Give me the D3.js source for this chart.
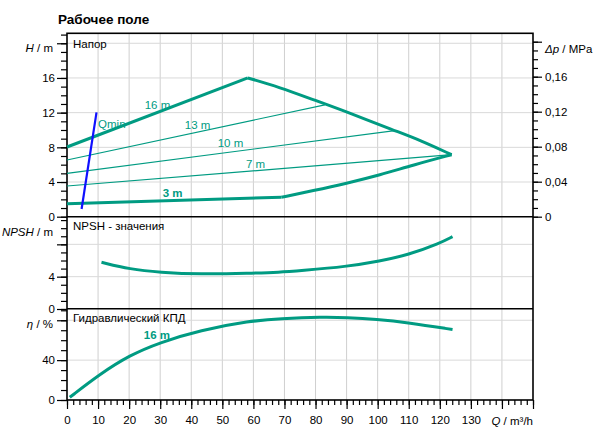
<!DOCTYPE html>
<meta charset="utf-8">
<style>
    body { margin: 0; background: #fff; }
    svg { font-family: "Liberation Sans", Arial, sans-serif; font-size: 11.5px; }
    .grid line { stroke: #cfcfcf; stroke-width: 1; }
    .axis path { display: none; }
    .axis line { stroke: #000; stroke-width: 1.2; }
    .axis text { fill: #000; font-size: 11.5px; }
</style>
<body>
<script src="https://cdn.jsdelivr.net/npm/d3@7"></script>
<script>

// ---- data ----
var qTicks = [0, 10, 20, 30, 40, 50, 60, 70, 80, 90, 100, 110, 120, 130];

// head field (Q m3/h, H m)
var curve16 = [[0, 8.04], [58.2, 16]];
var curveMax = [[58.2, 16], [68.5, 14.92], [79.2, 13.5], [90, 12.1], [105.5, 9.92], [113.5, 8.85], [123.8, 7.15]];
var curve13 = [[0, 6.54], [83, 12.9]];
var curve10 = [[0, 5.0], [105.5, 9.92]];
var curve7 = [[0, 3.54], [123.8, 7.15]];
var curve3 = [[0, 1.5], [69, 2.24]];
var curveMin = [[69, 2.24], [79.2, 3.0], [90, 3.85], [100.7, 4.8], [111.4, 5.96], [123.8, 7.15]];
var qmin = [[4.7, 0.89], [9.5, 12.04]];

var headLabels = [
    {t: "16 m", q: 25.0, v: 12.4, bold: false},
    {t: "Qmin", q: 10.0, v: 10.2, bold: false},
    {t: "13 m", q: 37.9, v: 10.1, bold: false},
    {t: "10 m", q: 48.5, v: 8.0, bold: false},
    {t: "7 m", q: 57.6, v: 5.65, bold: false},
    {t: "3 m", q: 30.8, v: 2.3, bold: true}
];

// NPSH (m)
var npsh = [[11.1, 5.78], [20.3, 4.91], [29.9, 4.54], [42.8, 4.29], [58.9, 4.42], [68.5, 4.54], [75, 4.74], [90, 5.24], [100.7, 5.94], [109.8, 6.68], [120, 8.13], [124.1, 8.95]];

// hydraulic efficiency (%)
var eta = [[0.9, 2.7], [10.6, 26], [20.2, 45], [29.9, 57.7], [42.8, 70], [58.9, 79.3], [68.5, 81.7], [82.5, 83.3], [90, 82.7], [99.6, 81], [109.8, 77.7], [124.1, 70.7]];
var etaLabel = {t: "16 m", q: 24.7, v: 61};

// ---- layout ----
var W = 599, H = 443;
var x0 = 67, x1 = 533;
var green = "#009b82";

var svg = d3.select("body").append("svg")
    .attr("width", W)
    .attr("height", H);

var x = d3.scaleLinear().domain([0, 150]).range([x0, x1]);
var yH = d3.scaleLinear().domain([0, 21.15]).range([216.7, 33.3]);
var yP = d3.scaleLinear().domain([0, 0.2096]).range([216.7, 33.3]);
var yN = d3.scaleLinear().domain([0, 11.42]).range([309, 216.7]);
var yE = d3.scaleLinear().domain([0, 91.7]).range([400, 308.6]);

// grid
var grid = svg.append("g").attr("class", "grid");
grid.selectAll("line.v")
    .data(d3.range(10, 150, 10))
  .enter().append("line")
    .attr("x1", d => x(d)).attr("x2", d => x(d))
    .attr("y1", 33.3).attr("y2", 400);

function hgrid(scale, vals) {
    grid.selectAll(null)
        .data(vals)
      .enter().append("line")
        .attr("x1", x0).attr("x2", x1)
        .attr("y1", d => scale(d)).attr("y2", d => scale(d))
        .style("stroke", "#d9d9d9");
}
hgrid(yH, [4, 8, 12, 16, 20]);
hgrid(yN, [4, 8]);
hgrid(yE, [40, 80]);

// axes
function leftAxis(scale, minor, major, labels) {
    svg.append("g").attr("class", "axis")
        .attr("transform", "translate(" + x0 + ",0)")
        .call(d3.axisLeft(scale).tickValues(minor).tickSize(6).tickFormat(""));
    svg.append("g").attr("class", "axis")
        .attr("transform", "translate(" + x0 + ",0)")
        .call(d3.axisLeft(scale).tickValues(major).tickSize(10).tickPadding(2)
            .tickFormat(d => labels.indexOf(d) >= 0 ? d : ""));
}
leftAxis(yH, d3.range(0, 22), [0, 4, 8, 12, 16, 20], [0, 4, 8, 12, 16]);
leftAxis(yN, d3.range(0, 12), [0, 4, 8], [0, 4]);
leftAxis(yE, d3.range(0, 91, 10), [0, 40, 80], [0, 40]);

svg.append("g").attr("class", "axis")
    .attr("transform", "translate(" + x1 + ",0)")
    .call(d3.axisRight(yP).tickValues(d3.range(0, 0.205, 0.01)).tickSize(5).tickFormat(""));
svg.append("g").attr("class", "axis")
    .attr("transform", "translate(" + x1 + ",0)")
    .call(d3.axisRight(yP).tickValues([0, 0.04, 0.08, 0.12, 0.16, 0.2]).tickSize(9).tickPadding(3)
        .tickFormat(d => d === 0.2 ? "" : (d === 0 ? "0" : d3.format(".2f")(d).replace(".", ","))));

svg.append("g").attr("class", "axis")
    .attr("transform", "translate(0,400)")
    .call(d3.axisBottom(x).tickValues(d3.range(0, 151, 2)).tickSize(5).tickFormat(""));
svg.append("g").attr("class", "axis")
    .attr("transform", "translate(0,400)")
    .call(d3.axisBottom(x).tickValues(d3.range(0, 151, 10)).tickSize(9).tickPadding(7)
        .tickFormat(d => qTicks.indexOf(d) >= 0 ? d : ""));

// frame
var frame = svg.append("g").style("stroke", "#000").style("stroke-width", 1.6).style("fill", "none");
frame.append("rect").attr("x", x0).attr("y", 33.3).attr("width", x1 - x0).attr("height", 400 - 33.3);
frame.append("line").attr("x1", x0).attr("x2", x1).attr("y1", 216.7).attr("y2", 216.7);
frame.append("line").attr("x1", x0).attr("x2", x1).attr("y1", 308.8).attr("y2", 308.8);

// axis titles
function axTitle(xp, yp, sym, unit, anchor) {
    var t = svg.append("text")
        .attr("x", xp).attr("y", yp)
        .attr("text-anchor", anchor)
        .style("font-size", "11.5px");
    t.append("tspan").style("font-style", "italic").text(sym);
    t.append("tspan").text(unit);
}
axTitle(53, yH(20) + 9, "H", "  /  m", "end");
axTitle(53, yN(9.5) + 4, "NPSH", "   /  m", "end");
axTitle(53, yE(80) + 8, "\u03b7", "  /  %", "end");
axTitle(545, yP(0.2) + 11, "\u0394p", " / MPa", "start");
axTitle(533, 425, "Q", " / m\u00b3/h", "end");

// panel names and title
svg.append("text").attr("x", 58).attr("y", 24).style("font-size", "13.5px").style("font-weight", "bold").text("Рабочее поле");
svg.append("text").attr("x", 73).attr("y", 48).text("Напор");
svg.append("text").attr("x", 73).attr("y", 230).text("NPSH - значения");
svg.append("text").attr("x", 73).attr("y", 322).text("Гидравлический КПД");

// curves
var line = (ys) => d3.line().x(d => x(d[0])).y(d => ys(d[1]));
var smooth = (ys) => d3.line().curve(d3.curveBasis).x(d => x(d[0])).y(d => ys(d[1]));

var curves = svg.append("g").style("fill", "none").style("stroke", green);
[curve13, curve10, curve7].forEach(function(c) {
    curves.append("path").attr("d", line(yH)(c)).style("stroke-width", 1.2);
});
curves.append("path").attr("d", line(yH)(curve16)).style("stroke-width", 3);
curves.append("path").attr("d", smooth(yH)(curveMax)).style("stroke-width", 3);
curves.append("path").attr("d", line(yH)(curve3)).style("stroke-width", 3);
curves.append("path").attr("d", smooth(yH)(curveMin)).style("stroke-width", 3);
curves.append("path").attr("d", smooth(yN)(npsh)).style("stroke-width", 3);
curves.append("path").attr("d", smooth(yE)(eta)).style("stroke-width", 3);

svg.append("path").attr("d", line(yH)(qmin))
    .style("stroke", "#1010ff").style("stroke-width", 2.2).style("fill", "none");

svg.selectAll("text.lab")
    .data(headLabels)
  .enter().append("text")
    .attr("class", "lab")
    .attr("x", d => x(d.q)).attr("y", d => yH(d.v))
    .style("fill", green)
    .style("font-weight", d => d.bold ? "bold" : "normal")
    .text(d => d.t);

svg.append("text")
    .attr("x", x(etaLabel.q)).attr("y", yE(etaLabel.v))
    .style("fill", green).style("font-weight", "bold")
    .text(etaLabel.t);

</script>
</body>
